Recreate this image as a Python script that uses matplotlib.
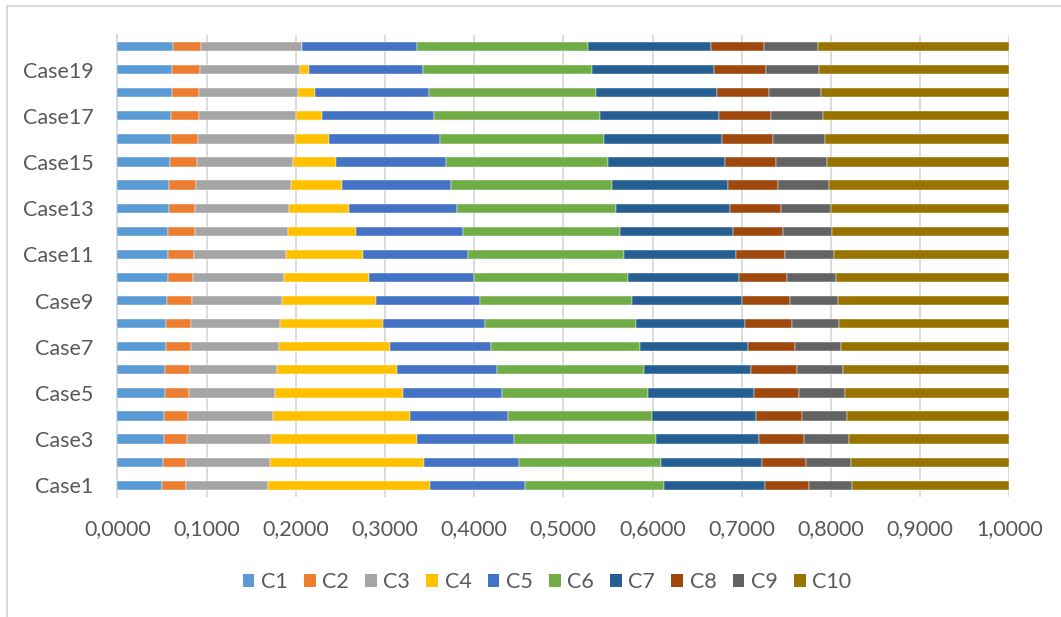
import matplotlib
matplotlib.use("Agg")
import matplotlib.pyplot as plt
from matplotlib.patches import Patch
from matplotlib.lines import Line2D
from matplotlib.ticker import FuncFormatter, MultipleLocator
import numpy as np

cases = [f"Case{i}" for i in range(1, 21)]
series_names = ["C1", "C2", "C3", "C4", "C5", "C6", "C7", "C8", "C9", "C10"]

c1 = [.0504, .0512, .0520, .0524, .0535, .0538, .0546, .0549, .0557, .0565,
      .0568, .0572, .0583, .0583, .0594, .0602, .0605, .0610, .0617, .0624]
c2 = [.0263, .0262, .0265, .0272, .0272, .0277, .0277, .0281, .0284, .0287,
      .0292, .0299, .0291, .0303, .0300, .0303, .0311, .0309, .0313, .0318]
c3 = [.0926, .0935, .0941, .0953, .0961, .0975, .0990, .0997, .1009, .1017,
      .1028, .1039, .1051, .1065, .1076, .1087, .1091, .1110, .1118, .1125]
c4 = [.1818, .1727, .1632, .1532, .1438, .1342, .1244, .1152, .1054, .0956,
      .0863, .0766, .0676, .0571, .0478, .0381, .0288, .0191, .0098, .0000]
c5 = [.1060, .1071, .1086, .1099, .1107, .1121, .1132, .1147, .1159, .1174,
      .1184, .1200, .1211, .1222, .1237, .1247, .1261, .1277, .1283, .1295]
c6 = [.1561, .1585, .1599, .1614, .1640, .1652, .1671, .1689, .1704, .1726,
      .1742, .1760, .1775, .1799, .1813, .1833, .1852, .1866, .1889, .1912]
c7 = [.1133, .1139, .1154, .1170, .1185, .1203, .1214, .1225, .1240, .1248,
      .1262, .1270, .1287, .1301, .1317, .1328, .1340, .1355, .1366, .1384]
c8 = [.0493, .0493, .0501, .0509, .0508, .0512, .0520, .0527, .0534, .0538,
      .0550, .0557, .0563, .0566, .0570, .0573, .0584, .0588, .0592, .0595]
c9 = [.0482, .0501, .0505, .0511, .0515, .0519, .0523, .0527, .0542, .0550,
      .0549, .0553, .0561, .0565, .0571, .0580, .0583, .0586, .0594, .0599]
c10 = [.1760, .1775, .1797, .1816, .1839, .1861, .1883, .1906, .1917, .1939,
       .1962, .1984, .2002, .2025, .2044, .2066, .2085, .2108, .2130, .2148]

series = [c1, c2, c3, c4, c5, c6, c7, c8, c9, c10]
colors = ["#5B9BD5", "#ED7D31", "#A5A5A5", "#FFC000", "#4472C4",
          "#70AD47", "#255E91", "#9E480E", "#636363", "#997300"]

text_color = "#595959"
grid_color = "#D9D9D9"
plt.rcParams["font.family"] = ["Lato", "DejaVu Sans"]

W, H = 1061, 617
fig = plt.figure(figsize=(W / 100, H / 100), dpi=100)
ax = fig.add_axes([117.3 / W, 1 - 496.8 / H, 892.0 / W, (496.8 - 35.0) / H])

y = np.arange(len(cases))
left = np.zeros(len(cases))
for name, vals, col in zip(series_names, series, colors):
    v = np.array(vals)
    ax.barh(y, v, left=left, height=0.4, color=col, label=name,
            edgecolor="white", linewidth=0.3, zorder=3)
    left += v

ax.set_xlim(0, 1)
ax.set_ylim(-0.5, len(cases) - 0.5)
ax.xaxis.set_major_locator(MultipleLocator(0.1))
ax.xaxis.set_major_formatter(FuncFormatter(lambda x, p: f"{x:.4f}".replace(".", ",")))
ax.set_yticks(y[::2])
ax.set_yticklabels(cases[::2])
ax.grid(axis="x", color=grid_color, linewidth=1.3, zorder=0)
ax.set_axisbelow(True)
for s in ["top", "right", "bottom"]:
    ax.spines[s].set_visible(False)
ax.spines["left"].set_color(grid_color)
ax.spines["left"].set_linewidth(1.3)
ax.tick_params(axis="both", length=0, labelsize=15.5, labelcolor=text_color)
ax.tick_params(axis="x", pad=16)
ax.tick_params(axis="y", pad=17)

handles = [Patch(facecolor=c, edgecolor="none") for c in colors]
fig.legend(handles, series_names, loc="center", bbox_to_anchor=(547 / W, 1 - 581.7 / H),
           ncol=10, frameon=False, fontsize=15.5, labelcolor=text_color,
           handlelength=0.55, handleheight=0.55, handletextpad=0.3, columnspacing=0.75)

# chart-area border (left and top edges)
fig.add_artist(Line2D([7 / W, 7 / W], [0, 1 - 6 / H], color=grid_color, lw=1.5,
                      transform=fig.transFigure))
fig.add_artist(Line2D([7 / W, 1], [1 - 6 / H, 1 - 6 / H], color=grid_color, lw=1.5,
                      transform=fig.transFigure))

fig.savefig("out.png", dpi=100, facecolor="white")
